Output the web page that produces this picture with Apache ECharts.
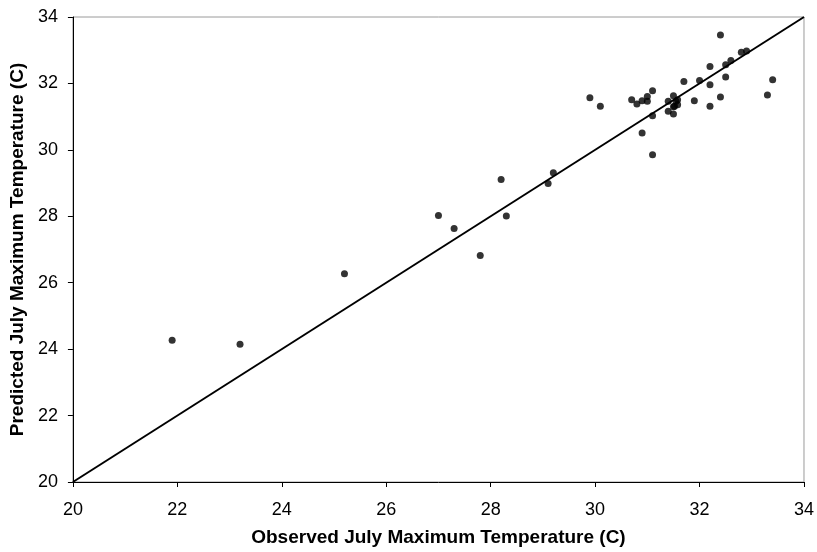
<!DOCTYPE html>
<html>
<head>
<meta charset="utf-8">
<script src="https://cdn.jsdelivr.net/npm/echarts@6/dist/echarts.min.js"></script>
<style>
  html, body { margin: 0; padding: 0; background: #fff; }
  #chart { width: 817px; height: 552px; }
</style>
</head>
<body>
<div id="chart"></div>
<script>
// Observed vs predicted July maximum temperature (°C), one pair per station
const observed = [
  21.9, 23.2, 25.2, 27.0, 27.3, 27.8, 28.2, 28.3, 29.1, 29.2,
  29.9, 30.1, 30.7, 30.8, 30.9, 31.0, 31.0, 31.1, 30.9, 31.1,
  31.1, 31.4, 31.4, 31.5, 31.5, 31.5, 31.55, 31.52, 31.58, 31.58,
  31.7, 31.9, 32.0, 32.2, 32.2, 32.2, 32.4, 32.4, 32.5, 32.5,
  32.6, 32.8, 32.9, 33.3, 33.4
];
const predicted = [
  24.27, 24.15, 26.27, 28.02, 27.63, 26.82, 29.11, 28.01, 28.99, 29.31,
  31.57, 31.31, 31.51, 31.38, 31.48, 31.61, 31.46, 31.78, 30.51, 31.03,
  29.85, 31.16, 31.46, 31.63, 31.08, 31.3, 31.46, 31.31, 31.36, 31.51,
  32.06, 31.48, 32.09, 32.51, 31.96, 31.31, 33.46, 31.59, 32.19, 32.56,
  32.69, 32.94, 32.98, 31.65, 32.11
];
// 1:1 reference line end points
const oneToOne = [20, 34];
const axisMin = 20, axisMax = 34, axisStep = 2;

const points = observed.map((v, i) => [v, predicted[i]]);
const refLine = oneToOne.map(v => [v, v]);

const font = 'Liberation Sans, Arial, Helvetica, sans-serif';

const chart = echarts.init(document.getElementById('chart'), null, { renderer: 'canvas' });
chart.setOption({
  animation: false,
  backgroundColor: '#ffffff',
  grid: {
    left: 71, right: 12, top: 17, bottom: 69,
    show: true, borderColor: '#9a9a9a', borderWidth: 1, backgroundColor: 'transparent'
  },
  xAxis: {
    type: 'value', min: axisMin, max: axisMax, interval: axisStep,
    name: 'Observed July Maximum Temperature (C)',
    nameLocation: 'middle', nameGap: 46,
    nameTextStyle: { fontFamily: font, fontSize: 19, fontWeight: 'bold', color: '#000' },
    axisLine: { show: true, onZero: false, lineStyle: { color: '#000', width: 1 } },
    axisTick: { show: true, inside: false, length: 5, lineStyle: { color: '#000' } },
    axisLabel: { fontFamily: font, fontSize: 18, color: '#000', margin: 19 },
    splitLine: { show: false }
  },
  yAxis: {
    type: 'value', min: axisMin, max: axisMax, interval: axisStep,
    name: 'Predicted July Maximum Temperature (C)',
    nameLocation: 'middle', nameGap: 43, nameRotate: 90,
    nameTextStyle: { fontFamily: font, fontSize: 19, fontWeight: 'bold', color: '#000' },
    axisLine: { show: true, onZero: false, lineStyle: { color: '#000', width: 1 } },
    axisTick: { show: true, inside: false, length: 5, lineStyle: { color: '#000' } },
    axisLabel: { fontFamily: font, fontSize: 18, color: '#000', margin: 15 },
    splitLine: { show: false }
  },
  series: [
    {
      type: 'line',
      data: refLine,
      symbol: 'none',
      lineStyle: { color: '#000', width: 2 },
      silent: true,
      z: 2
    },
    {
      type: 'scatter',
      data: points,
      symbol: 'circle',
      symbolSize: 7,
      itemStyle: { color: '#000' },
      z: 3
    }
  ]
});
</script>
</body>
</html>
